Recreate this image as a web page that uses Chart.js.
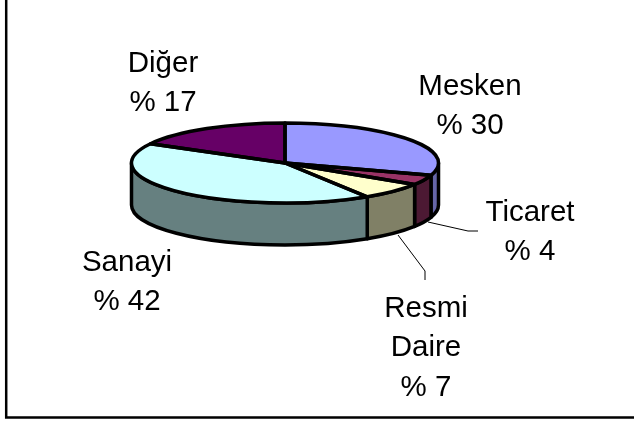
<!DOCTYPE html>
<html><head><meta charset="utf-8">
<style>html,body{margin:0;padding:0;background:#fff}#w{position:absolute;left:0;top:0;width:634px;height:421px}</style>
<script src="https://cdn.jsdelivr.net/npm/chart.js@4"></script></head>
<body><div id="w"><canvas id="c" width="634" height="421"></canvas></div>
<script>
const categories=['Mesken','Ticaret','Resmi Daire','Sanayi','Diğer'];
const values=[30,4,7,42,17];
const topColors=['#9999FF','#993366','#FFFFCC','#CCFFFF','#660066'];
const sideColors=['#6666A8','#4C1933','#808066','#668080','#330033'];
const labelLines=[['Mesken','% 30'],['Ticaret','% 4'],['Resmi','Daire','% 7'],['Sanayi','% 42'],['Diğer','% 17']];
const labelAnchors=[[470,95],[530,221],[426,317],[127,271],[163,72]];
const leaders=[null,[[428,222],[468,231],[478,231]],[[398,235],[425,271],[425,280]],null,null];
const squash=40/153.5, depth=42, lw=3.5;

const pie3d={id:'pie3d',
 beforeDatasetsDraw(chart){
  const ctx=chart.ctx, arcs=chart.getDatasetMeta(0).data, a0=arcs[0];
  const cx=a0.x, cy=a0.y, rx=a0.outerRadius, ry=rx*squash;
  ctx.save();
  arcs.forEach((a,i)=>{
    const s=Math.max(a.startAngle,0), e=Math.min(a.endAngle,Math.PI);
    if(e<=s) return;
    ctx.beginPath();
    ctx.ellipse(cx,cy,rx,ry,0,s,e);
    ctx.ellipse(cx,cy+depth,rx,ry,0,e,s,true);
    ctx.closePath();
    ctx.fillStyle=sideColors[i]; ctx.fill();
    ctx.lineWidth=lw; ctx.strokeStyle='#000'; ctx.lineJoin='round'; ctx.stroke();
  });
  ctx.restore();
  ctx.save();
  ctx.translate(cx,cy); ctx.scale(1,squash); ctx.translate(-cx,-cy);
 },
 afterDatasetsDraw(chart){
  const ctx=chart.ctx, arcs=chart.getDatasetMeta(0).data, a0=arcs[0];
  ctx.restore();
  const cx=a0.x, cy=a0.y, rx=a0.outerRadius, ry=rx*squash;
  ctx.save();
  ctx.lineWidth=lw; ctx.strokeStyle='#000'; ctx.lineJoin='round';
  arcs.forEach(a=>{
    ctx.beginPath();
    ctx.moveTo(cx,cy);
    ctx.ellipse(cx,cy,rx,ry,0,a.startAngle,a.endAngle);
    ctx.closePath(); ctx.stroke();
  });
  ctx.restore();
  ctx.save();
  ctx.strokeStyle='#000'; ctx.lineWidth=1;
  leaders.forEach(l=>{ if(!l) return;
    ctx.beginPath(); l.forEach((p,i)=>i?ctx.lineTo(p[0],p[1]):ctx.moveTo(p[0],p[1])); ctx.stroke();});
  ctx.fillStyle='#000'; ctx.font='29.5px "Liberation Sans"'; ctx.textAlign='center'; ctx.textBaseline='alphabetic';
  labelLines.forEach((ls,i)=>ls.forEach((t,j)=>ctx.fillText(t,labelAnchors[i][0],labelAnchors[i][1]+j*39.3)));
  ctx.restore();
 },
 beforeDraw(chart){
  const ctx=chart.ctx; ctx.save();
  ctx.fillStyle='#fff'; ctx.fillRect(0,0,634,421);
  ctx.strokeStyle='#000'; ctx.lineWidth=2.5;
  ctx.beginPath(); ctx.moveTo(6.2,0); ctx.lineTo(6.2,417.4); ctx.lineTo(634,417.4); ctx.stroke();
  ctx.restore();
 }
};
new Chart(document.getElementById('c'),{
 type:'pie',
 data:{labels:categories,datasets:[{data:values,backgroundColor:topColors,borderWidth:0,clip:false}]},
 options:{responsive:false,animation:false,
  layout:{padding:{left:131.5,right:634-438.5,top:9.5,bottom:421-316.5}},
  plugins:{legend:{display:false},tooltip:{enabled:false}}},
 plugins:[pie3d]
});
</script></body></html>
